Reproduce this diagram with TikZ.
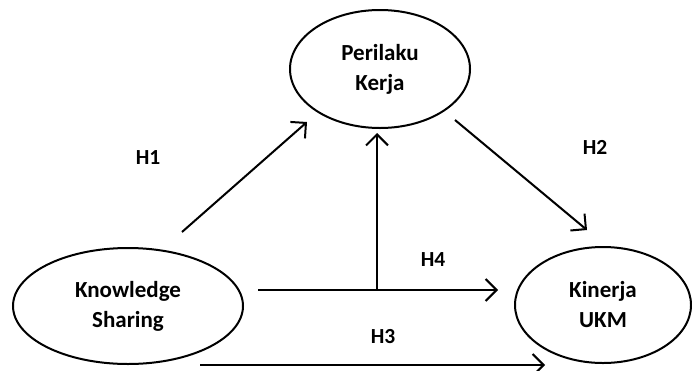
\documentclass[tikz,border=0pt]{standalone}
\usepackage{fontspec}
\setmainfont{Carlito}
\usetikzlibrary{arrows.meta,shapes.geometric}

\tikzset{
    var/.style={draw, ellipse, line width=2pt, inner sep=0pt, align=center,
        font=\fontsize{23}{30}\selectfont\bfseries},
    arr/.style={line width=2pt, -{Straight Barb[length=11pt, width=22pt, line width=2pt]}},
    hyp/.style={font=\fontsize{21.5}{24}\selectfont\bfseries}
}

\begin{document}
\begin{tikzpicture}[x=1pt, y=-1pt]
    \useasboundingbox (0,0) rectangle (692,370);

    % Variables
    \node[var, minimum width=180pt, minimum height=118pt] (pk) at (380,69) {Perilaku\\Kerja};
    \node[var, minimum width=230pt, minimum height=116pt] (ks) at (128,306) {Knowledge\\Sharing};
    \node[var, minimum width=176pt, minimum height=116pt] (kin) at (603,305) {Kinerja\\UKM};

    % Arrow ends
    \coordinate (h1a) at (182,232);
    \coordinate (h1b) at (307,122);
    \coordinate (h2a) at (455,120);
    \coordinate (h2b) at (587,230);
    \coordinate (h4a) at (258,290);
    \coordinate (h4b) at (498,290);
    \coordinate (med) at (377,290);
    \coordinate (medb) at (377,133);
    \coordinate (h3a) at (200,365);
    \coordinate (h3b) at (545,365);

    % Paths
    \draw[arr] (h1a) -- (h1b);
    \draw[arr] (h2a) -- (h2b);
    \draw[arr] (h4a) -- (h4b);
    \draw[arr] (med) -- (medb);
    \draw[arr] (h3a) -- (h3b);

    % Hypotheses
    \node[hyp] (lh1) at (148,158) {H1};
    \node[hyp] (lh2) at (595,147) {H2};
    \node[hyp] (lh4) at (433,260) {H4};
    \node[hyp] (lh3) at (383,337) {H3};
\end{tikzpicture}
\end{document}
